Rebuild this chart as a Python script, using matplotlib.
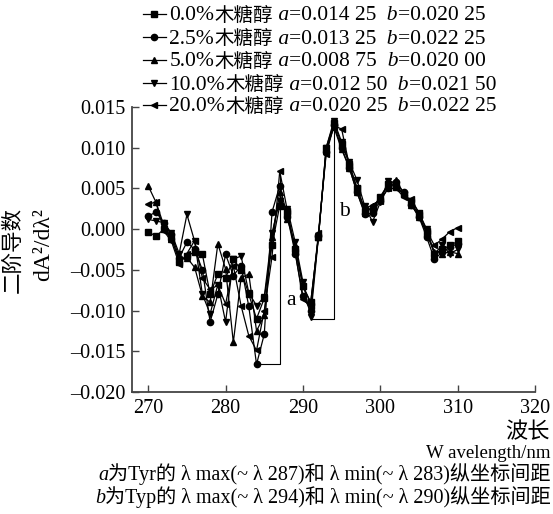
import matplotlib
matplotlib.use("Agg")
import matplotlib.pyplot as plt
from matplotlib.lines import Line2D
from matplotlib.offsetbox import TextArea, HPacker, DrawingArea, AnchoredOffsetbox

# Second-derivative UV spectra of the protein under different xylitol levels
wavelength = list(range(270, 311))

xylitol_0 = [-0.0003, -0.0009, 0.0000, -0.0010, -0.0040, -0.0033, -0.0028, -0.0031, -0.0080, -0.0055,
             -0.0060, -0.0037, -0.0050, -0.0080, -0.0110, -0.0085, -0.0020, 0.0029, 0.0020, -0.0025,
             -0.0070, -0.0090, -0.0010, 0.0100, 0.0130, 0.0105, 0.0080, 0.0050, 0.0022, 0.0025,
             0.0040, 0.0055, 0.0052, 0.0043, 0.0033, 0.0017, -0.0005, -0.0030, -0.0025, -0.0020,
             -0.0015]
xylitol_25 = [0.0016, 0.0021, 0.0008, -0.0006, -0.0035, -0.0016, -0.0025, -0.0050, -0.0114, -0.0080,
              -0.0031, -0.0057, -0.0045, -0.0095, -0.0166, -0.0129, 0.0021, 0.0053, 0.0015, -0.0030,
              -0.0082, -0.0100, -0.0008, 0.0095, 0.0128, 0.0100, 0.0075, 0.0045, 0.0018, 0.0020,
              0.0035, 0.0050, 0.0058, 0.0045, 0.0030, 0.0015, -0.0010, -0.0037, -0.0028, -0.0022,
              -0.0018]
xylitol_5 = [0.0053, 0.0033, 0.0005, -0.0012, -0.0037, -0.0035, -0.0047, -0.0082, -0.0090, -0.0018,
             -0.0049, -0.0139, -0.0060, -0.0055, -0.0125, -0.0106, -0.0010, 0.0045, 0.0012, -0.0020,
             -0.0070, -0.0090, -0.0010, 0.0098, 0.0125, 0.0098, 0.0075, 0.0045, 0.0020, 0.0028,
             0.0038, 0.0055, 0.0060, 0.0045, 0.0030, 0.0015, -0.0005, -0.0028, -0.0030, -0.0028,
             -0.0030]
xylitol_10 = [0.0012, 0.0010, 0.0008, -0.0005, -0.0030, 0.0018, -0.0015, -0.0080, -0.0104, -0.0068,
              -0.0114, -0.0037, -0.0033, -0.0078, -0.0094, -0.0083, -0.0005, 0.0035, 0.0025, -0.0016,
              -0.0065, -0.0108, -0.0010, 0.0100, 0.0133, 0.0107, 0.0082, 0.0060, 0.0028, 0.0009,
              0.0033, 0.0059, 0.0055, 0.0042, 0.0035, 0.0020, 0.0000, -0.0030, -0.0020, -0.0030,
              -0.0025]
xylitol_20 = [0.0031, 0.0033, -0.0002, -0.0015, -0.0043, -0.0030, -0.0014, -0.0060, -0.0074, -0.0069,
              -0.0092, -0.0045, -0.0094, -0.0131, -0.0149, -0.0100, -0.0034, 0.0071, 0.0022, -0.0028,
              -0.0086, -0.0095, -0.0005, 0.0092, 0.0127, 0.0123, 0.0078, 0.0050, 0.0025, 0.0030,
              0.0035, 0.0050, 0.0050, 0.0040, 0.0037, 0.0020, -0.0002, -0.0020, -0.0012, -0.0003,
              0.0002]

series = [xylitol_0, xylitol_25, xylitol_5, xylitol_10, xylitol_20]
levels = ["0.0%", "2.5%", "5.0%", "10.0%", "20.0%"]
a_values = ["0.014 25", "0.013 25", "0.008 75", "0.012 50", "0.020 25"]
b_values = ["0.020 25", "0.022 25", "0.020 00", "0.021 50", "0.022 25"]
markers = ["s", "o", "^", "v", "<"]

# brackets marking the Tyr (a) and Trp (b) peak-to-trough distances
bracket_a_x = [284, 287, 287]
bracket_a_y = [-0.0165, -0.0165, 0.0065]
bracket_b_x = [291, 294, 294]
bracket_b_y = [-0.0110, -0.0110, 0.0133]

xticks = [270, 280, 290, 300, 310, 320]
yticks = [-0.020, -0.015, -0.010, -0.005, 0.000, 0.005, 0.010, 0.015]

SERIF = "Liberation Serif"
CJK = "Noto Sans CJK SC"
MIXED = [SERIF, CJK]
FS = 14.5
LEG_FS = 15.5

W, H = 553, 514
fig = plt.figure(figsize=(W / 100, H / 100), dpi=100)
ax = fig.add_axes([132 / W, 1 - 392 / H, (535 - 132) / W, (392 - 107) / H])

for vals, mk in zip(series, markers):
    ax.plot(wavelength, vals, color="black", lw=0.9, marker=mk, ms=4.5,
            mfc="black", mec="black", clip_on=False)

ax.plot(bracket_a_x, bracket_a_y, color="black", lw=0.8)
ax.plot(bracket_b_x, bracket_b_y, color="black", lw=0.8)
ax.text(288.4, -0.0088, "a", family=SERIF, fontsize=FS + 1, ha="center", va="center")
ax.text(295.3, 0.0022, "b", family=SERIF, fontsize=FS + 1, ha="center", va="center")

ax.set_xlim(267.9, 320)
ax.set_ylim(-0.020, 0.015)
ax.set_xticks(xticks)
ax.set_yticks(yticks)
ax.set_xticklabels([str(t) for t in xticks], family=SERIF, fontsize=FS)
ax.set_yticklabels([f"{t:.3f}".replace("-", "\u2013") for t in yticks], family=SERIF, fontsize=FS)
for s in ("top", "right"):
    ax.spines[s].set_visible(False)
for s in ("left", "bottom"):
    ax.spines[s].set_color("#444444")
    ax.spines[s].set_linewidth(1.3)
ax.tick_params(direction="in", length=5, width=1, color="#444444", pad=5)

# legend rows above the plot
row_centers = [15, 38, 61, 84, 106]
for lvl, av, bv, mk, yc in zip(levels, a_values, b_values, markers, row_centers):
    da = DrawingArea(19, 10, 0, 0)
    da.add_artist(Line2D([0, 16.5], [5, 5], color="black", lw=0.9))
    da.add_artist(Line2D([8.25], [5], marker=mk, ms=4.5, color="black"))
    pieces = [
        da,
        TextArea(lvl, textprops=dict(family=SERIF, fontsize=LEG_FS)),
        TextArea("木糖醇", textprops=dict(family=CJK, fontsize=LEG_FS - 1.5)),
        TextArea(" a", textprops=dict(family=SERIF, style="italic", fontsize=LEG_FS)),
        TextArea("=" + av, textprops=dict(family=SERIF, fontsize=LEG_FS)),
        TextArea("  b", textprops=dict(family=SERIF, style="italic", fontsize=LEG_FS)),
        TextArea("=" + bv, textprops=dict(family=SERIF, fontsize=LEG_FS)),
    ]
    row = HPacker(children=pieces, sep=0, pad=0, align="baseline")
    box = AnchoredOffsetbox(loc="center left", child=row, pad=0, borderpad=0, frameon=False,
                            bbox_to_anchor=(143 / W, 1 - yc / H), bbox_transform=fig.transFigure)
    fig.add_artist(box)

# axis titles
fig.text(13 / W, 1 - 250 / H, "二阶导数", rotation=90, family=CJK, fontsize=15.5,
         ha="center", va="center")
fig.text(44 / W, 1 - 245 / H, "dA²/dλ²", rotation=90, family=SERIF, fontsize=17,
         ha="center", va="center")
fig.text(550 / W, 1 - 432 / H, "波长", family=CJK, fontsize=16, ha="right", va="center")
fig.text(551 / W, 1 - 453 / H, "W avelength/nm", family=SERIF, fontsize=13.5, ha="right", va="center")

# notes explaining a and b
notes = [("a", "为Tyr的 λ max(~ λ 287)和 λ min(~ λ 283)纵坐标间距", 474),
         ("b", "为Typ的 λ max(~ λ 294)和 λ min(~ λ 290)纵坐标间距", 497)]
for letter, rest, yc in notes:
    row = HPacker(children=[
        TextArea(letter, textprops=dict(family=SERIF, style="italic", fontsize=FS)),
        TextArea(rest, textprops=dict(family=MIXED, fontsize=FS)),
    ], sep=0, pad=0, align="baseline")
    box = AnchoredOffsetbox(loc="center right", child=row, pad=0, borderpad=0, frameon=False,
                            bbox_to_anchor=(551 / W, 1 - yc / H), bbox_transform=fig.transFigure)
    fig.add_artist(box)

fig.savefig("out.png", dpi=100)
